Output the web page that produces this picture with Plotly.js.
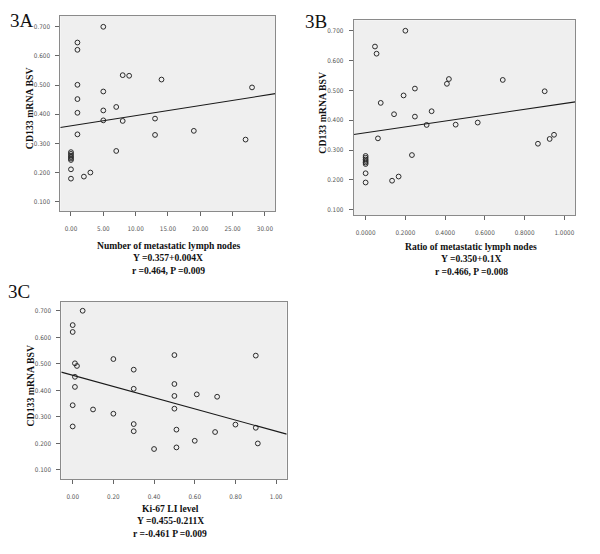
<!DOCTYPE html>
<html>
<head>
<meta charset="utf-8">
<script src="https://cdn.plot.ly/plotly-3.0.1.min.js"></script>
<style>html,body{margin:0;padding:0;background:#fff;}#chart{width:600px;height:554px;}</style>
</head>
<body>
<div id="chart"></div>
<script>
// Panel 3A: number of metastatic lymph nodes vs CD133 mRNA BSV
const aX = [5, 1, 1, 8, 9, 14, 1, 28, 5, 1, 5, 7, 1, 5, 8, 13, 1, 13, 19, 27, 7, 0, 0, 0, 0, 0, 0, 0, 0, 2, 3];
const aY = [0.700, 0.646, 0.621, 0.534, 0.532, 0.519, 0.501, 0.492, 0.478, 0.452, 0.413, 0.425, 0.405, 0.379, 0.377, 0.385, 0.331, 0.329, 0.343, 0.313, 0.274, 0.270, 0.264, 0.258, 0.253, 0.248, 0.243, 0.211, 0.179, 0.186, 0.200];
const aFit = [0.360, 0.0035];
const aXTicks = [0, 5, 10, 15, 20, 25, 30];

// Panel 3B: ratio of metastatic lymph nodes vs CD133 mRNA BSV
const bX = [0.200, 0.047, 0.055, 0.419, 0.409, 0.690, 0.248, 0.901, 0.191, 0.076, 0.143, 0.332, 0.248, 0.307, 0.453, 0.564, 0.062, 0.948, 0.926, 0.867, 0.233, 0, 0, 0, 0, 0, 0, 0, 0, 0.133, 0.166];
const bY = [0.700, 0.647, 0.623, 0.538, 0.522, 0.535, 0.506, 0.497, 0.483, 0.458, 0.420, 0.430, 0.412, 0.384, 0.385, 0.392, 0.339, 0.351, 0.337, 0.321, 0.283, 0.280, 0.274, 0.268, 0.263, 0.258, 0.253, 0.222, 0.191, 0.197, 0.211];
const bFit = [0.358, 0.098];
const bXTicks = [0, 0.2, 0.4, 0.6, 0.8, 1.0];

// Panel 3C: Ki-67 LI level vs CD133 mRNA BSV
const cX = [0.049, 0, 0, 0.011, 0.021, 0.011, 0.011, 0, 0, 0.1, 0.2, 0.2, 0.3, 0.3, 0.3, 0.3, 0.4, 0.5, 0.5, 0.5, 0.5, 0.51, 0.51, 0.61, 0.6, 0.71, 0.7, 0.8, 0.9, 0.9, 0.91];
const cY = [0.700, 0.646, 0.620, 0.502, 0.492, 0.451, 0.413, 0.344, 0.264, 0.328, 0.518, 0.312, 0.478, 0.406, 0.273, 0.246, 0.179, 0.533, 0.424, 0.379, 0.331, 0.252, 0.185, 0.385, 0.210, 0.376, 0.243, 0.271, 0.531, 0.259, 0.200];
const cFit = [0.457, -0.211];
const cXTicks = [0, 0.2, 0.4, 0.6, 0.8, 1.0];

const yTicks = [0.1, 0.2, 0.3, 0.4, 0.5, 0.6, 0.7];
const yTitle = "CD133 mRNA BSV";
const panelLabels = ["3A", "3B", "3C"];
const captions = [
  ["Number of metastatic lymph nodes", "Y =0.357+0.004X", "r =0.464, P =0.009"],
  ["Ratio of metastatic lymph nodes", "Y =0.350+0.1X", "r =0.466, P =0.008"],
  ["Ki-67 LI level", "Y =0.455-0.211X", "r =-0.461 P =0.009"]
];

const W = 600, H = 554;
const px = v => v / W;
const py = v => 1 - v / H;
const SERIF = "Liberation Serif, Times New Roman, serif";
const NARROW = "Liberation Sans Narrow, DejaVu Sans Condensed, Liberation Sans, Arial, sans-serif";

const panels = [
  {xs: aX, ys: aY, fit: aFit, xt: aXTicks, fmt: ".2f", xr: [-1.65, 31.6], yr: [0.067, 0.737],
   box: [60.3, 275.3, 16, 211.3], lab: [8, 21], cap: [168, 245], ytx: 29.5},
  {xs: bX, ys: bY, fit: bFit, xt: bXTicks, fmt: ".4f", xr: [-0.060, 1.055], yr: [0.082, 0.735],
   box: [353.7, 575.3, 20.3, 215], lab: [303, 21.5], cap: [471, 246], ytx: 323},
  {xs: cX, ys: cY, fit: cFit, xt: cXTicks, fmt: ".2f", xr: [-0.056, 1.052], yr: [0.066, 0.733],
   box: [61.3, 286.7, 302, 479], lab: [6, 291], cap: [170, 508], ytx: 30}
];

const traces = [];
const layout = {
  width: W, height: H,
  margin: {l: 0, r: 0, t: 0, b: 0},
  paper_bgcolor: "#ffffff",
  showlegend: false,
  annotations: [],
  shapes: [],
  font: {family: NARROW}
};

panels.forEach((p, i) => {
  const n = i === 0 ? "" : String(i + 1);
  const xa = "x" + n, ya = "y" + n;
  traces.push({
    type: "scatter", mode: "markers", x: p.xs, y: p.ys, xaxis: xa, yaxis: ya,
    marker: {symbol: "circle-open", size: 4.8, color: "#2a2a2a", line: {width: 1, color: "#2a2a2a"}},
    hoverinfo: "x+y"
  });
  traces.push({
    type: "scatter", mode: "lines", xaxis: xa, yaxis: ya,
    x: [p.xr[0], p.xr[1]],
    y: [p.fit[0] + p.fit[1] * p.xr[0], p.fit[0] + p.fit[1] * p.xr[1]],
    line: {color: "#1a1a1a", width: 1.1}, hoverinfo: "skip"
  });
  const common = {
    showgrid: false, zeroline: false, showline: true, mirror: true,
    linecolor: "#8a8a8a", linewidth: 1, ticks: "outside", ticklen: 4,
    tickcolor: "#666", tickwidth: 1,
    tickfont: {family: NARROW, size: 6.3, color: "#555"}
  };
  layout["xaxis" + n] = Object.assign({}, common, {
    domain: [px(p.box[0]), px(p.box[1])], anchor: ya, range: p.xr,
    tickvals: p.xt, tickformat: p.fmt, ticklabelstandoff: 7
  });
  layout["yaxis" + n] = Object.assign({}, common, {
    domain: [py(p.box[3]), py(p.box[2])], anchor: xa, range: p.yr,
    tickvals: yTicks, tickformat: ".3f", ticklabelstandoff: 4
  });
  layout.shapes.push({type: "rect", xref: xa + " domain", yref: ya + " domain",
    x0: 0, x1: 1, y0: 0, y1: 1, fillcolor: "#efefef", line: {width: 0}, layer: "below"});
  layout.annotations.push({
    text: panelLabels[i], xref: "paper", yref: "paper", x: px(p.lab[0]), y: py(p.lab[1]),
    xanchor: "left", yanchor: "middle", showarrow: false,
    font: {family: SERIF, size: 19, color: "#111"}
  });
  layout.annotations.push({
    text: "<b>" + yTitle + "</b>", xref: "paper", yref: "paper", textangle: -90,
    x: px(p.ytx), y: py((p.box[2] + p.box[3]) / 2 - 5), xanchor: "center", yanchor: "middle",
    showarrow: false, font: {family: SERIF, size: 9.8, color: "#111"}
  });
  captions[i].forEach((t, k) => {
    layout.annotations.push({
      text: "<b>" + t + "</b>", xref: "paper", yref: "paper",
      x: px(p.cap[0]), y: py(p.cap[1] + k * 12.6), xanchor: "center", yanchor: "middle",
      showarrow: false, font: {family: SERIF, size: 9.6, color: "#111"}
    });
  });
});

Plotly.newPlot("chart", traces, layout, {staticPlot: true, displayModeBar: false});
</script>
</body>
</html>
